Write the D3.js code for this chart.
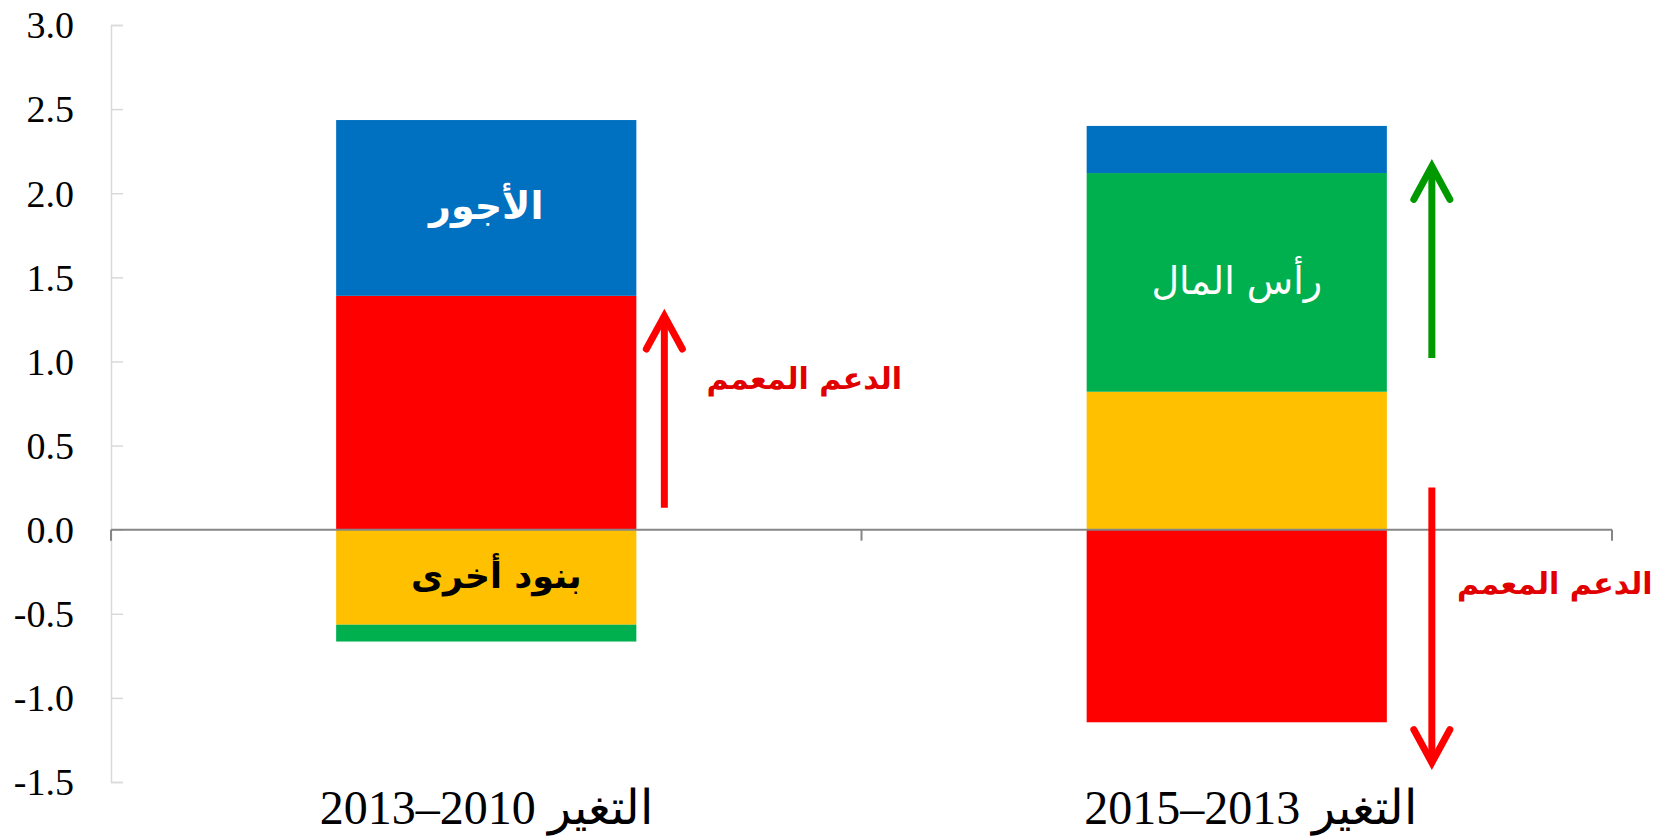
<!DOCTYPE html>
<html>
<head>
<meta charset="utf-8">
<script src="https://cdn.jsdelivr.net/npm/d3@7"></script>
<style>
  body { margin: 0; background: #fff; }
  svg { display: block; }
</style>
</head>
<body>
<svg id="drawing_region"></svg>
<script>
// data
const categories = ["التغير 2010–2013", "التغير 2013–2015"];
const seriesKeys = ["subsidies", "other", "capital", "wages"];
const subsidies = [1.39, -1.145];
const other = [-0.565, 0.82];
const capital = [-0.10, 1.30];
const wages = [1.045, 0.28];
const yTicks = [3.0, 2.5, 2.0, 1.5, 1.0, 0.5, 0.0, -0.5, -1.0, -1.5];

// labels written inside the segments
const segmentText = ["الأجور", "بنود أخرى", "رأس المال"];
const segmentCat = [0, 0, 1];
const segmentKey = ["wages", "other", "capital"];

// arrows (from value -> to value)
const arrowCat = [0, 1, 1];
const arrowFrom = [0.13, 1.02, 0.25];
const arrowTo = [1.27, 2.16, -1.385];

// red notes
const noteText = "الدعم المعمم";
const noteCat = [0, 1];
const noteValue = [0.89, -0.33];

const width = 1659;
const height = 836;
const margin = {top: 25, right: 47, bottom: 54, left: 111};

const colors = {subsidies: "#ff0000", other: "#ffc000", capital: "#00b04f", wages: "#0070c0"};

const svg = d3.select("#drawing_region")
    .attr("width", width)
    .attr("height", height);

const table = categories.map((c, i) => ({
    cat: c,
    subsidies: subsidies[i],
    other: other[i],
    capital: capital[i],
    wages: wages[i]
}));

const xscale = d3.scaleBand()
    .domain(categories)
    .range([margin.left, width - margin.right]);

const yscale = d3.scaleLinear()
    .domain([-1.5, 3.0])
    .range([height - margin.bottom, margin.top]);

const barW = xscale.bandwidth() * 0.4;
const cx = c => xscale(c) + xscale.bandwidth() / 2;

// y axis (light line, ticks pointing right)
const yaxis = d3.axisRight(yscale)
    .tickValues(yTicks)
    .tickSize(12)
    .tickFormat("");

const yg = svg.append("g")
    .attr("transform", `translate(${margin.left},0)`)
    .call(yaxis);
yg.select(".domain").attr("stroke", "#d9d9d9").attr("stroke-width", 1.5);
yg.selectAll(".tick line").attr("stroke", "#d9d9d9").attr("stroke-width", 1.5);

svg.append("g").selectAll("text")
    .data(yTicks)
    .join("text")
    .attr("x", 74)
    .attr("y", d => yscale(d))
    .attr("dy", "0.35em")
    .attr("text-anchor", "end")
    .attr("font-family", "Liberation Serif, Times New Roman, serif")
    .attr("font-size", 38)
    .attr("fill", "#000")
    .text(d => d.toFixed(1));

// stacked bars
const stack = d3.stack()
    .keys(seriesKeys)
    .offset(d3.stackOffsetDiverging);
const stacked = stack(table);

svg.append("g").selectAll("g")
    .data(stacked)
    .join("g")
    .attr("fill", d => colors[d.key])
    .selectAll("rect")
    .data(d => d)
    .join("rect")
    .attr("x", d => cx(d.data.cat) - barW / 2)
    .attr("width", barW)
    .attr("y", d => yscale(d[1]))
    .attr("height", d => yscale(d[0]) - yscale(d[1]));

// zero line with category ticks
const x0 = yscale(0);
svg.append("line")
    .attr("x1", margin.left)
    .attr("x2", width - margin.right)
    .attr("y1", x0)
    .attr("y2", x0)
    .attr("stroke", "#868686")
    .attr("stroke-width", 2);

const boundaries = [xscale(categories[0])].concat(categories.map(c => xscale(c) + xscale.bandwidth()));
svg.append("g").selectAll("line")
    .data(boundaries)
    .join("line")
    .attr("x1", d => d)
    .attr("x2", d => d)
    .attr("y1", x0)
    .attr("y2", x0 + 11)
    .attr("stroke", "#868686")
    .attr("stroke-width", 2);

// category labels
svg.append("g").selectAll("text")
    .data(categories)
    .join("text")
    .attr("x", (c, i) => cx(c) + i * 14)
    .attr("y", 824)
    .attr("text-anchor", "middle")
    .attr("direction", "rtl")
    .attr("font-family", "Liberation Serif, Times New Roman, serif")
    .attr("font-size", 48)
    .attr("fill", "#000")
    .text(c => c);

// labels inside segments
const segLayer = stacked.reduce((m, s) => { m[s.key] = s; return m; }, {});
svg.append("g").selectAll("text")
    .data(segmentText)
    .join("text")
    .attr("x", (t, i) => cx(categories[segmentCat[i]]) + (i === 1 ? 10 : 0))
    .attr("y", (t, i) => {
        const seg = segLayer[segmentKey[i]][segmentCat[i]];
        return yscale((seg[0] + seg[1]) / 2);
    })
    .attr("dy", "0.3em")
    .attr("text-anchor", "middle")
    .attr("direction", "rtl")
    .attr("font-family", "DejaVu Sans, sans-serif")
    .attr("font-weight", (t, i) => i === 2 ? "normal" : "bold")
    .attr("font-size", (t, i) => i === 1 ? 35 : 38)
    .attr("fill", (t, i) => i === 1 ? "#000" : "#fff")
    .text(t => t);

// arrows
const arrowGap = [28, 45, 45];
const arrowColor = ["#ff0000", "#009900", "#ff0000"];
const arrowG = svg.append("g");
arrowCat.forEach((ci, i) => {
    const ax = cx(categories[ci]) + barW / 2 + arrowGap[i];
    const y1 = yscale(arrowFrom[i]);
    const y2 = yscale(arrowTo[i]);
    const dir = y2 < y1 ? 1 : -1;
    arrowG.append("line")
        .attr("x1", ax).attr("x2", ax)
        .attr("y1", y1).attr("y2", y2 + dir * 3)
        .attr("stroke", arrowColor[i])
        .attr("stroke-width", 7);
    arrowG.append("path")
        .attr("d", `M${ax - 18},${y2 + dir * 33} L${ax},${y2} L${ax + 18},${y2 + dir * 33}`)
        .attr("fill", "none")
        .attr("stroke", arrowColor[i])
        .attr("stroke-width", 7)
        .attr("stroke-linecap", "round")
        .attr("stroke-linejoin", "miter");
});

// red notes
svg.append("g").selectAll("text")
    .data(noteCat)
    .join("text")
    .attr("x", (ci) => cx(categories[ci]) + 318)
    .attr("y", (ci, i) => yscale(noteValue[i]))
    .attr("dy", "0.3em")
    .attr("text-anchor", "middle")
    .attr("direction", "rtl")
    .attr("font-family", "DejaVu Sans, sans-serif")
    .attr("font-weight", "bold")
    .attr("font-size", 30)
    .attr("fill", "#e00000")
    .text(noteText);
</script>
</body>
</html>
